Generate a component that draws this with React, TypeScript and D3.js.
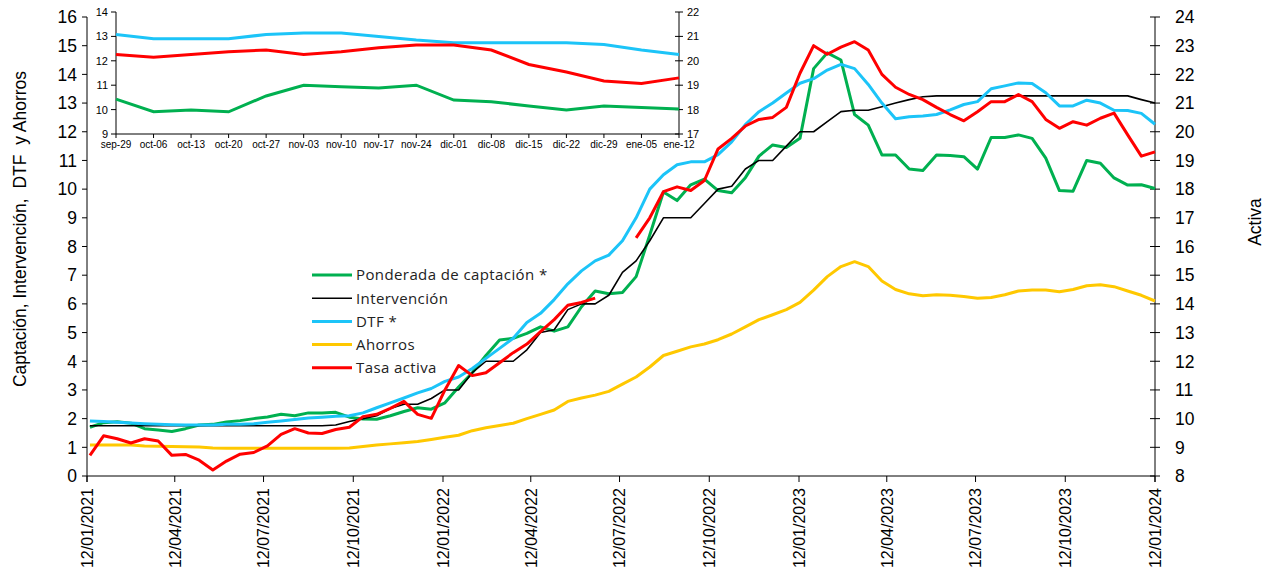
import * as d3 from "d3";

// biweekly observations, 15 Jan 2021 .. 12 Jan 2024
const dates = d3.timeDay.range(new Date(2021, 0, 15), new Date(2024, 0, 13), 14);

const ponderada = [
  1.7, 1.86, 1.89, 1.84, 1.65, 1.6, 1.55, 1.65, 1.78, 1.8,
  1.88, 1.93, 2.0, 2.06, 2.15, 2.1, 2.2, 2.2, 2.22, 2.05,
  1.99, 1.98, 2.1, 2.25, 2.38, 2.33, 2.55, 3.1, 3.6, 4.2,
  4.74, 4.8, 4.97, 5.2, 5.05, 5.2, 5.9, 6.45, 6.35, 6.4,
  6.95, 8.4, 9.9, 9.6, 10.15, 10.35, 9.95, 9.87, 10.4, 11.15,
  11.54, 11.45, 11.77, 14.2, 14.75, 14.5, 12.6, 12.23, 11.19, 11.19,
  10.7, 10.65, 11.19, 11.17, 11.13, 10.7, 11.8, 11.8, 11.89, 11.77,
  11.08, 9.95, 9.93, 11.0, 10.9, 10.39, 10.14, 10.15, 10.02,
];
const intervencion = [
  1.75, 1.75, 1.75, 1.75, 1.75, 1.75, 1.75, 1.75, 1.75, 1.75,
  1.75, 1.75, 1.75, 1.75, 1.75, 1.75, 1.75, 1.75, 1.78, 1.9,
  2.0, 2.1, 2.35, 2.5, 2.5, 2.7, 3.0, 3.0, 3.6, 4.0,
  4.0, 4.0, 4.4, 5.0, 5.1, 5.8, 6.0, 6.0, 6.3, 7.1,
  7.5, 8.2, 9.0, 9.0, 9.0, 9.5, 10.0, 10.1, 10.7, 11.0,
  11.0, 11.5, 12.0, 12.0, 12.35, 12.7, 12.75, 12.75, 12.87, 13.0,
  13.12, 13.22, 13.25, 13.25, 13.25, 13.25, 13.25, 13.25, 13.25, 13.25,
  13.25, 13.25, 13.25, 13.25, 13.25, 13.25, 13.25, 13.12, 13.0,
];
const dtf = [
  1.92, 1.9, 1.87, 1.85, 1.82, 1.8, 1.79, 1.78, 1.78, 1.78,
  1.8, 1.8, 1.82, 1.87, 1.92, 1.97, 2.02, 2.05, 2.08, 2.1,
  2.2, 2.38, 2.55, 2.72, 2.9, 3.05, 3.3, 3.45, 3.75, 4.1,
  4.45, 4.8, 5.35, 5.67, 6.15, 6.7, 7.15, 7.5, 7.7, 8.2,
  9.0, 10.0, 10.5, 10.85, 10.95, 10.95, 11.2, 11.65, 12.25, 12.7,
  13.0, 13.35, 13.69, 13.85, 14.15, 14.35, 14.2, 13.65, 13.0, 12.45,
  12.52, 12.55, 12.6, 12.76, 12.95, 13.05, 13.5, 13.6, 13.7, 13.68,
  13.36, 12.9, 12.9, 13.1, 13.0, 12.75, 12.74, 12.64, 12.26,
];
const ahorros = [
  1.08, 1.08, 1.08, 1.08, 1.05, 1.04, 1.03, 1.02, 1.01, 0.98,
  0.97, 0.97, 0.97, 0.97, 0.97, 0.97, 0.97, 0.97, 0.97, 0.98,
  1.03, 1.08, 1.12, 1.16, 1.2, 1.27, 1.35, 1.42, 1.58, 1.68,
  1.76, 1.84, 2.0, 2.15, 2.3, 2.6, 2.72, 2.82, 2.95, 3.2,
  3.45, 3.8, 4.2, 4.35, 4.5, 4.6, 4.75, 4.95, 5.2, 5.45,
  5.62, 5.8, 6.05, 6.48, 6.95, 7.3, 7.47, 7.3, 6.8, 6.5,
  6.35, 6.28, 6.32, 6.3, 6.26, 6.2, 6.22, 6.32, 6.45, 6.48,
  6.48, 6.42, 6.5, 6.63, 6.67, 6.6, 6.45, 6.3, 6.1,
];
// right axis
const activa: (number | null)[] = [
  8.72, 9.4, 9.3, 9.15, 9.3, 9.22, 8.72, 8.75, 8.55, 8.21,
  8.52, 8.76, 8.82, 9.05, 9.45, 9.65, 9.5, 9.48, 9.62, 9.7,
  10.07, 10.15, 10.36, 10.6, 10.15, 10.01, 11.0, 11.85, 11.5, 11.6,
  11.95, 12.3, 12.6, 13.03, 13.45, 13.95, 14.05, 14.2, null, null,
  16.3, 17.0, 17.91, 18.08, 17.95, 18.3, 19.4, 19.77, 20.2, 20.43,
  20.5, 20.85, 22.04, 23.0, 22.7, 22.95, 23.14, 22.85, 22.0, 21.55,
  21.3, 21.12, 20.85, 20.6, 20.38, 20.7, 21.05, 21.05, 21.3, 21.05,
  20.43, 20.12, 20.35, 20.23, 20.47, 20.65, 19.89, 19.15, 19.3,
];

const xTickDates = d3.range(13).map((i) => new Date(2021, i * 3, 12));

// inset: last weeks
const insetLabels = [
  "sep-29", "oct-06", "oct-13", "oct-20", "oct-27", "nov-03", "nov-10", "nov-17",
  "nov-24", "dic-01", "dic-08", "dic-15", "dic-22", "dic-29", "ene-05", "ene-12",
];
const insetPonderada = [10.43, 9.91, 9.98, 9.91, 10.56, 11.0, 10.94, 10.89, 11.0, 10.39, 10.32, 10.15, 9.98, 10.15, 10.09, 10.02];
const insetDtf = [13.08, 12.9, 12.9, 12.9, 13.08, 13.14, 13.14, 13.0, 12.85, 12.74, 12.74, 12.74, 12.74, 12.67, 12.44, 12.26];
const insetActiva = [20.26, 20.15, 20.26, 20.37, 20.44, 20.26, 20.37, 20.53, 20.65, 20.65, 20.44, 19.85, 19.54, 19.17, 19.07, 19.3];

const GREEN = "#00B050";
const BLUE = "#1CC4F8";
const YELLOW = "#FFC800";
const RED = "#FF0000";
const AXIS = "#000";
const FONT = "'Liberation Sans', Arial, sans-serif";

const legendItems = [
  { label: "Ponderada de captación *", color: GREEN, w: 3 },
  { label: "Intervención", color: "#000", w: 1.6 },
  { label: "DTF *", color: BLUE, w: 3 },
  { label: "Ahorros", color: YELLOW, w: 3 },
  { label: "Tasa activa", color: RED, w: 3 },
];

export default function App() {
  const L = 87, R = 1155, T = 17, B = 476;
  const x = d3.scaleTime().domain([new Date(2021, 0, 12), new Date(2024, 0, 12)]).range([L, R]);
  const yL = d3.scaleLinear().domain([0, 16]).range([B, T]);
  const yR = d3.scaleLinear().domain([8, 24]).range([B, T]);
  const fmt = d3.timeFormat("%d/%m/%Y");

  const lineL = d3.line<number>().x((_, i) => x(dates[i])).y((d) => yL(d));
  const lineR = d3
    .line<number | null>()
    .defined((d) => d != null)
    .x((_, i) => x(dates[i]))
    .y((d) => yR(d as number));

  // inset scales
  const iL = 116, iR = 679, iT = 12, iB = 134;
  const xi = d3.scalePoint().domain(insetLabels).range([iL, iR]);
  const yiL = d3.scaleLinear().domain([9, 14]).range([iB, iT]);
  const yiR = d3.scaleLinear().domain([17, 22]).range([iB, iT]);
  const lineI = (sc: d3.ScaleLinear<number, number>) =>
    d3.line<number>().x((_, i) => xi(insetLabels[i])!).y((d) => sc(d));

  return (
    <svg width={1275} height={576} style={{ position: "absolute", left: 0, top: 0, background: "#fff" }} fontFamily={FONT}>
      {/* main axes */}
      <line x1={L} x2={L} y1={T} y2={B + 6} stroke={AXIS} />
      <line x1={R} x2={R} y1={T} y2={B + 6} stroke={AXIS} />
      <line x1={L} x2={R} y1={B} y2={B} stroke={AXIS} />
      {yL.ticks(16).map((t) => (
        <g key={"l" + t}>
          <line x1={L - 5} x2={L} y1={yL(t)} y2={yL(t)} stroke={AXIS} />
          <text x={L - 10} y={yL(t)} dy="0.36em" textAnchor="end" fontSize={17.5}>{t}</text>
        </g>
      ))}
      {yR.ticks(16).map((t) => (
        <g key={"r" + t}>
          <line x1={R - 5} x2={R + 5} y1={yR(t)} y2={yR(t)} stroke={AXIS} />
          <text x={R + 20} y={yR(t)} dy="0.36em" textAnchor="start" fontSize={17.5}>{t}</text>
        </g>
      ))}
      {xTickDates.map((d) => (
        <g key={+d}>
          <line x1={x(d)} x2={x(d)} y1={B} y2={B + 6} stroke={AXIS} />
          <text transform={`translate(${x(d)},${B + 12}) rotate(-90)`} dy="0.36em" textAnchor="end" fontSize={16}>
            {fmt(d)}
          </text>
        </g>
      ))}
      <text transform="translate(20,229) rotate(-90)" dy="0.36em" textAnchor="middle" fontSize={17.5} style={{ whiteSpace: "pre" }}>
        {"Captación, Intervención,  DTF  y Ahorros"}
      </text>
      <text transform="translate(1255,222) rotate(-90)" dy="0.36em" textAnchor="middle" fontSize={17.5}>
        Activa
      </text>

      {/* main series */}
      <path d={lineL(ponderada)!} fill="none" stroke={GREEN} strokeWidth={3} strokeLinejoin="round" />
      <path d={lineL(intervencion)!} fill="none" stroke="#000" strokeWidth={1.6} strokeLinejoin="round" />
      <path d={lineL(dtf)!} fill="none" stroke={BLUE} strokeWidth={3} strokeLinejoin="round" />
      <path d={lineL(ahorros)!} fill="none" stroke={YELLOW} strokeWidth={3} strokeLinejoin="round" />
      <path d={lineR(activa)!} fill="none" stroke={RED} strokeWidth={3} strokeLinejoin="round" />

      {/* legend */}
      {legendItems.map((it, i) => (
        <g key={it.label} transform={`translate(312,${275 + i * 23.2})`}>
          <line x1={0} x2={40} y1={0} y2={0} stroke={it.color} strokeWidth={it.w} />
          <text x={44} y={0} dy="0.36em" fontSize={15} letterSpacing={0.4} fontFamily="'Open Sans', sans-serif" fill="#222">
            {it.label}
          </text>
        </g>
      ))}

      {/* inset */}
      <line x1={iL} x2={iL} y1={iT} y2={iB} stroke={AXIS} />
      <line x1={iR} x2={iR} y1={iT} y2={iB} stroke={AXIS} />
      <line x1={iL} x2={iR} y1={iB} y2={iB} stroke={AXIS} />
      {yiL.ticks(5).map((t) => (
        <g key={"il" + t}>
          <line x1={iL - 5} x2={iL} y1={yiL(t)} y2={yiL(t)} stroke={AXIS} />
          <text x={iL - 8} y={yiL(t)} dy="0.36em" textAnchor="end" fontSize={11}>{t}</text>
        </g>
      ))}
      {yiR.ticks(5).map((t) => (
        <g key={"ir" + t}>
          <line x1={iR - 4} x2={iR + 4} y1={yiR(t)} y2={yiR(t)} stroke={AXIS} />
          <text x={iR + 8} y={yiR(t)} dy="0.36em" textAnchor="start" fontSize={11}>{t}</text>
        </g>
      ))}
      {insetLabels.map((lb) => (
        <g key={lb}>
          <line x1={xi(lb)} x2={xi(lb)} y1={iB} y2={iB + 4} stroke={AXIS} />
          <text x={xi(lb)} y={iB + 14} textAnchor="middle" fontSize={10}>{lb}</text>
        </g>
      ))}
      <path d={lineI(yiL)(insetPonderada)!} fill="none" stroke={GREEN} strokeWidth={3} />
      <path d={lineI(yiL)(insetDtf)!} fill="none" stroke={BLUE} strokeWidth={3} />
      <path d={lineI(yiR)(insetActiva)!} fill="none" stroke={RED} strokeWidth={3} />
    </svg>
  );
}
